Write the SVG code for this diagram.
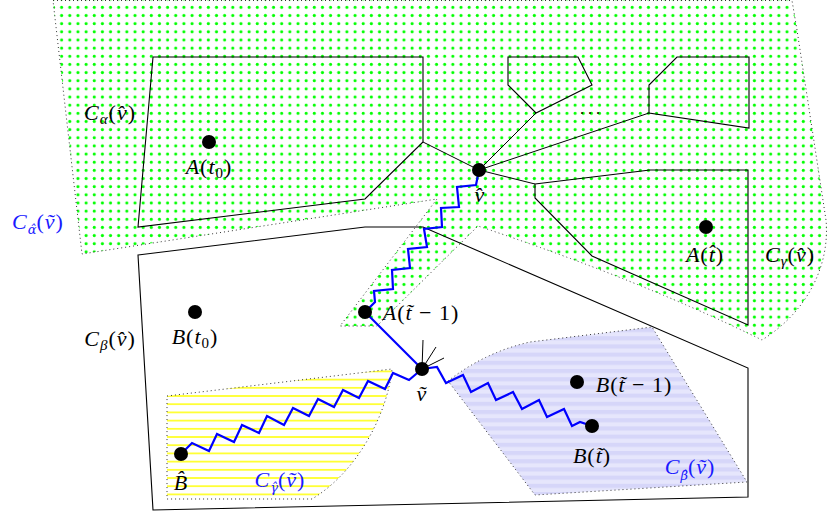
<svg xmlns="http://www.w3.org/2000/svg" width="829" height="514" viewBox="0 0 829 514">
<style>
.t{font-family:"Liberation Serif","Times New Roman",serif;font-size:22px;fill:#000;text-anchor:middle;letter-spacing:1px}
.b{fill:#1a1aff}
.i{font-style:italic}
.s{font-size:15px}
.g{font-family:"DejaVu Serif",serif;font-size:13px;letter-spacing:0}
.cell{fill:none;stroke:#000;stroke-width:1.1;stroke-linejoin:miter}
.dotb{stroke:#333;stroke-width:1;stroke-dasharray:1 3}
.blue{fill:none;stroke:#0000ff;stroke-width:2.2;stroke-linejoin:miter}
.thin{fill:none;stroke:#000;stroke-width:1}
.pt{fill:#000}
</style>
<defs>
<pattern id="gdots" patternUnits="userSpaceOnUse" x="0.6" y="3.3" width="8.15" height="8.15">
<circle cx="4" cy="4" r="1.55" fill="#00ff00"/>
</pattern>
<pattern id="ylines" patternUnits="userSpaceOnUse" x="0" y="1.5" width="10" height="8.2">
<rect x="0" y="0" width="10" height="1.8" fill="#ffff33"/>
</pattern>
<pattern id="llines" patternUnits="userSpaceOnUse" x="0" y="0" width="10" height="8.2">
<rect x="0" y="0" width="10" height="8.2" fill="#e6e6fc"/>
<rect x="0" y="0" width="10" height="4.1" fill="#d6d6f9"/>
</pattern>
</defs>

<g id="region-green">
<path d="M53,0.5 L792,0.5 L797,30 L826,220 C830,262 810,310 762,340 Q640,280 478,226 L377,326 L340,326 L437,199 L82,254 Z" fill="url(#gdots)" class="dotb"/>
</g>

<g id="region-yellow">
<path d="M167,396 L392,369 C388,410 360,470 312,499 L167,499 Z" fill="url(#ylines)" class="dotb"/>
</g>

<g id="region-lavender">
<path d="M448,381 Q485,352 530,342 L652,327 L747,482 L535,495 Z" fill="url(#llines)" class="dotb"/>
</g>

<g id="cells">
<polygon id="cell-alpha" class="cell" points="153,57 423,57 423,142 365,199 138,227"/>
<polygon id="cell-small" class="cell" points="508,57 578,57 592,85 536,113 508,85"/>
<polygon id="cell-upright" class="cell" points="677,57 749,57 749,128 649,113 649,85"/>
<polygon id="cell-gamma" class="cell" points="535,184 650,170 748,170 748,325 592,256 535,198"/>
<polygon id="cell-beta" class="cell" points="138,255 365,227 423,227 748,368 748,497 153,510"/>
</g>

<g id="connectors">
<line class="thin" x1="479" y1="170" x2="423" y2="142"/>
<line class="thin" x1="479" y1="170" x2="536" y2="113"/>
<line class="thin" x1="479" y1="170" x2="649" y2="113"/>
<line class="thin" x1="479" y1="170" x2="535" y2="184"/>
<line class="thin" x1="422" y1="369" x2="423" y2="340"/>
<line class="thin" x1="422" y1="369" x2="436" y2="347"/>
<line class="thin" x1="422" y1="369" x2="444" y2="358"/>
<path class="blue" d="M479,170 L476,185 L457,187 L459,207 L441,208 L442,227 L424,229 L427,247 L408,249 L410,268 L392,270 L393,289 L374,291 L375,302 L365,312"/>
<path class="blue" d="M365,312 L422,369"/>
<path class="blue" d="M422,369 L409,380 L393,373 L385,389 L368,381 L359,398 L343,390 L334,407 L318,399 L309,416 L293,408 L284,425 L267,416 L259,433 L242,425 L234,442 L217,434 L209,451 L192,443 L181,454"/>
<path class="blue" d="M422,369 L437,367 L446,383 L463,375 L471,392 L488,383 L496,400 L513,392 L522,409 L539,400 L547,417 L564,409 L572,426 L580,422 L592,426"/>
</g>

<g id="node-vhat">
<circle class="pt" cx="479" cy="170" r="7"/>
<text class="t i" x="480" y="202">v&#770;</text>
</g>
<g id="node-vtilde">
<circle class="pt" cx="422" cy="369" r="7"/>
<text class="t i" x="422" y="401">&#7805;</text>
</g>
<g id="node-At0">
<circle class="pt" cx="209" cy="142" r="7"/>
<text class="t" x="209" y="174"><tspan class="i">A</tspan>(<tspan class="i">t</tspan><tspan class="s" dy="4">0</tspan><tspan dy="-4">)</tspan></text>
</g>
<g id="node-Athat">
<circle class="pt" cx="706" cy="227" r="7"/>
<text class="t" x="705" y="262"><tspan class="i">A</tspan>(<tspan class="i">t&#770;</tspan>)</text>
</g>
<g id="node-Attm1">
<circle class="pt" cx="365" cy="312" r="7"/>
<text class="t" x="421" y="320"><tspan class="i">A</tspan>(<tspan class="i">t&#771;</tspan> − 1)</text>
</g>
<g id="node-Bt0">
<circle class="pt" cx="195" cy="312" r="7"/>
<text class="t" x="195" y="344"><tspan class="i">B</tspan>(<tspan class="i">t</tspan><tspan class="s" dy="4">0</tspan><tspan dy="-4">)</tspan></text>
</g>
<g id="node-Bhat">
<circle class="pt" cx="181" cy="454" r="7"/>
<text class="t i" x="181" y="490">B&#770;</text>
</g>
<g id="node-Bttm1">
<circle class="pt" cx="577" cy="382" r="7"/>
<text class="t" x="634" y="392"><tspan class="i">B</tspan>(<tspan class="i">t&#771;</tspan> − 1)</text>
</g>
<g id="node-Btt">
<circle class="pt" cx="592" cy="426" r="7"/>
<text class="t" x="592" y="463"><tspan class="i">B</tspan>(<tspan class="i">t&#771;</tspan>)</text>
</g>

<g id="labels">
<text class="t" x="110" y="120"><tspan class="i">C</tspan><tspan class="i s" dy="4">α</tspan><tspan dy="-4">(</tspan><tspan class="i">v&#770;</tspan>)</text>
<text class="t" x="790" y="262"><tspan class="i">C</tspan><tspan class="i s" dy="4">γ</tspan><tspan dy="-4">(</tspan><tspan class="i">v&#770;</tspan>)</text>
<text class="t" x="110" y="346"><tspan class="i">C</tspan><tspan class="i s" dy="4">β</tspan><tspan dy="-4">(</tspan><tspan class="i">v&#770;</tspan>)</text>
<text class="t b" x="38" y="229"><tspan class="i">C</tspan><tspan class="i g" dy="5">α&#770;</tspan><tspan dy="-5">(</tspan><tspan class="i">&#7805;</tspan>)</text>
<text class="t b" x="280" y="487"><tspan class="i">C</tspan><tspan class="i g" dy="5">γ&#770;</tspan><tspan dy="-5">(</tspan><tspan class="i">&#7805;</tspan>)</text>
<text class="t b" x="690" y="474"><tspan class="i">C</tspan><tspan class="i g" dy="6">β&#770;</tspan><tspan dy="-6">(</tspan><tspan class="i">&#7805;</tspan>)</text>
<text class="t" x="592" y="114" style="font-size:16px;letter-spacing:4px">...</text>
</g>
</svg>
